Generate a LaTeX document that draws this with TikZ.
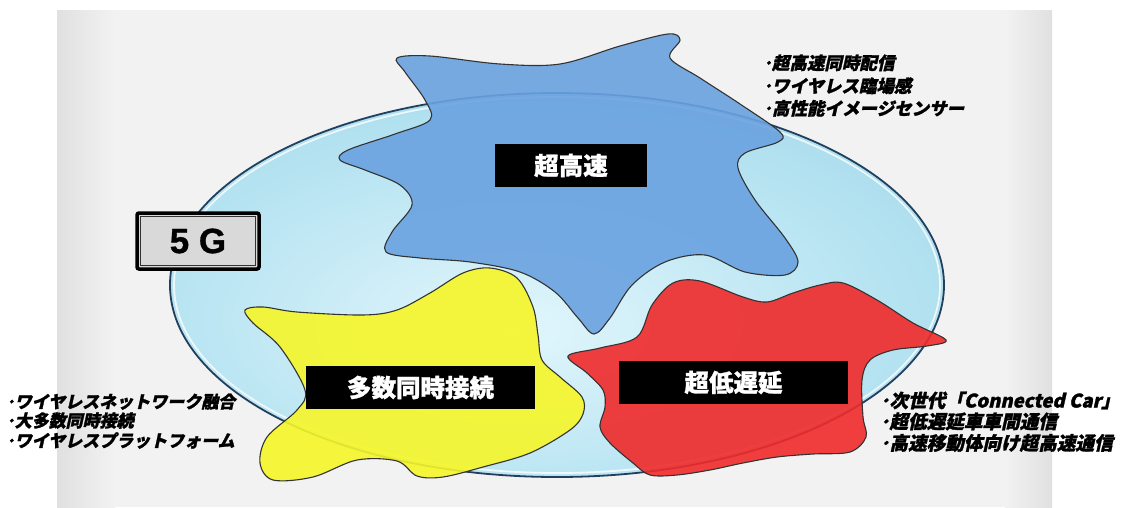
\documentclass[tikz,border=0pt]{standalone}
\usepackage{fontspec}
\newfontfamily\jp{Noto Sans CJK JP}[FakeBold=1.2]
\newfontfamily\jpit{Noto Sans CJK JP}[FakeSlant=0.22, FakeBold=1.5]
\newfontfamily\lsans{Liberation Sans}[FakeBold=1]
\usetikzlibrary{calc}
\definecolor{bgc}{HTML}{F2F2F2}
\definecolor{bgedge}{HTML}{E0E0E0}
\definecolor{ellin}{HTML}{E2F6FC}
\definecolor{ellmid}{HTML}{BCE6F3}
\definecolor{ellout}{HTML}{8CCDE4}
\definecolor{ellline}{HTML}{22405E}
\definecolor{blobblue}{HTML}{6AA2E0}
\definecolor{blobyellow}{HTML}{F6F628}
\definecolor{blobred}{HTML}{F02A2A}
\definecolor{fivegfill}{HTML}{D9D9D9}
\pgfdeclareradialshading{ellsh}{\pgfpoint{-3bp}{-6bp}}{color(0bp)=(ellin); color(20bp)=(ellmid); color(50bp)=(ellout); color(80bp)=(ellout)}
\tikzset{
  blob/.style={draw=black!80, line width=1.1pt, fill opacity=0.9},
  lbl/.style={fill=black, text=white, font=\jp\bfseries\fontsize{24.5}{24}\selectfont, minimum height=43pt, inner sep=0pt},
  bullet/.style={anchor=base west, inner sep=0pt, font=\jpit\bfseries\fontsize{17.5}{20}\selectfont}
}
\begin{document}
\begin{tikzpicture}[x=1pt,y=-1pt]
\useasboundingbox (0,0) rectangle (1123,507);
% background panel
\fill[white] (0,0) rectangle (1123,507);
\fill[bgc] (57,10) rectangle (1052,507);
\shade[left color=bgedge, right color=bgc] (57,10) rectangle (115,507);
\shade[left color=bgc, right color=bgedge] (1005,10) rectangle (1052,507);
% 5G ellipse
\shade[shading=ellsh] (557,285) ellipse [x radius=387pt, y radius=192pt];
\draw[white, opacity=0.75, line width=1.8pt] (557,285) ellipse [x radius=383pt, y radius=188pt];
\draw[ellline, line width=1.8pt] (557,285) ellipse [x radius=387pt, y radius=192pt];
% blue blob
\draw[blob, fill=blobblue] plot[smooth cycle, tension=0.55] coordinates {
(397,58) (430,56) (500,64) (560,64) (620,46) (668,34) (680,40) (670,58) (700,78) (740,104) (780,132) (778,142) (745,153) (738,168) (755,200) (785,238) (798,262) (785,275) (745,272) (705,255) (665,262) (632,285) (610,318) (594,334) (578,318) (555,292) (520,272) (470,262) (420,258) (386,252) (392,232) (412,205) (400,185) (365,170) (340,160) (348,150) (395,134) (430,120) (425,100) (405,72)};
% yellow blob
\draw[blob, fill=blobyellow] plot[smooth cycle, tension=0.55] coordinates {
(245,310) (263,307) (297,312) (363,315) (397,310) (430,293) (463,273) (490,268) (517,278) (533,307) (538,335) (542,360) (560,377) (582,397) (583,414) (570,430) (530,453) (483,467) (443,477) (417,476) (397,461) (357,460) (313,477) (273,480) (260,463) (267,437) (297,410) (305,390) (280,347) (253,323)};
% red blob
\draw[blob, fill=blobred] plot[smooth cycle, tension=0.55] coordinates {
(568,356) (600,348) (637,337) (652,305) (673,283) (700,281) (743,297) (767,302) (793,293) (820,285) (843,283) (877,300) (913,323) (946,340) (927,346) (893,350) (870,360) (862,380) (863,417) (866,437) (850,452) (813,454) (777,457) (743,463) (710,470) (677,475) (650,475) (633,463) (610,443) (600,427) (605,407) (603,390) (587,373)};
% labels
\node[lbl, minimum width=152pt] (speed) at (571,165.5) {超高速};
\node[lbl, minimum width=229pt] (mass) at (420.5,387.5) {多数同時接続};
\node[lbl, minimum width=229pt] (latency) at (733.5,382.5) {超低遅延};
% 5G box
\node[draw=black, line width=3.5pt, rounded corners=2pt, fill=fivegfill, minimum width=122pt, minimum height=56pt, inner sep=0pt, font=\lsans\bfseries\fontsize{35}{35}\selectfont] (fiveg) at (198,241) {5 G};
\draw[black!80, line width=1pt] ($(fiveg.north west)+(5,5)$) rectangle ($(fiveg.south east)+(-5,-5)$);
% bullet lists
\node[bullet] (tr1) at (763,69.5) {･超高速同時配信};
\node[bullet] (tr2) at (763,92.5) {･ワイヤレス臨場感};
\node[bullet] (tr3) at (763,115) {･高性能イメージセンサー};
\node[bullet, font=\jpit\bfseries\fontsize{17}{20}\selectfont] (bl1) at (6,408) {･ワイヤレスネットワーク融合};
\node[bullet, font=\jpit\bfseries\fontsize{17}{20}\selectfont] (bl2) at (6,427) {･大多数同時接続};
\node[bullet, font=\jpit\bfseries\fontsize{17}{20}\selectfont] (bl3) at (6,447) {･ワイヤレスプラットフォーム};
\node[bullet, font=\jpit\bfseries\fontsize{18.6}{20}\selectfont] (br1) at (880,407.5) {･次世代「Connected Car」};
\node[bullet, font=\jpit\bfseries\fontsize{18.6}{20}\selectfont] (br2) at (880,428.5) {･超低遅延車車間通信};
\node[bullet, font=\jpit\bfseries\fontsize{18.6}{20}\selectfont] (br3) at (880,450) {･高速移動体向け超高速通信};
\end{tikzpicture}
\end{document}
